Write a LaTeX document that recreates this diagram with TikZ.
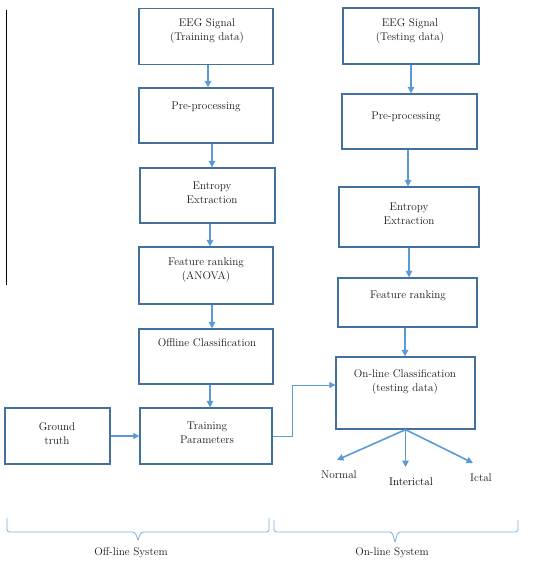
\documentclass[tikz,border=0pt]{standalone}
\usetikzlibrary{arrows.meta}
\definecolor{boxblue}{HTML}{41719C}
\definecolor{arrblue}{HTML}{5B9BD5}
\definecolor{txtgray}{HTML}{1A1A1A}
\tikzset{
  box/.style={draw=boxblue, line width=1.3bp, rectangle, inner sep=0pt},
  txt/.style={align=center, inner sep=0pt, font=\fontsize{11.2}{14.5}\selectfont, text=txtgray},
  arr/.style={draw=arrblue, line width=1.6bp, -{Triangle[length=6.5bp,width=6.5bp]}},
  link/.style={draw=arrblue, line width=0.9bp, -{Triangle[length=6bp,width=6bp]}},
  bracepath/.style={draw=arrblue!80, line width=0.8bp, rounded corners=2.5bp}
}
\begin{document}
\begin{tikzpicture}[x=1bp,y=-1bp]
\useasboundingbox[fill=white] (0,0) rectangle (534,572);
% left margin line
\draw[black, line width=1bp] (6,10) -- (6,285);
% ---------- Off-line column ----------
\node[box, minimum width=134bp, minimum height=56bp] (e1) at (206,36.5) {};
\node[txt] (e1t) at (207,31) {EEG Signal\\(Training data)};
\node[box, minimum width=134bp, minimum height=55bp] (p1) at (206,115.5) {};
\node[txt] (p1t) at (206,107) {Pre-processing};
\node[box, minimum width=135bp, minimum height=55bp] (x1) at (207.5,195.5) {};
\node[txt] (x1t) at (212,193) {Entropy\\Extraction};
\node[box, minimum width=134bp, minimum height=57bp] (f1) at (206,275.5) {};
\node[txt] (f1t) at (206,270) {Feature ranking\\(ANOVA)};
\node[box, minimum width=134bp, minimum height=55bp] (c1) at (206,356.5) {};
\node[txt] (c1t) at (207,343) {Offline Classification};
\node[box, minimum width=132bp, minimum height=56bp] (tp) at (206,436) {};
\node[txt] (tpt) at (207,433) {Training\\Parameters};
\node[box, minimum width=105bp, minimum height=56bp] (gt) at (57.5,436) {};
\node[txt] (gtt) at (57,433.5) {Ground\\truth};
% ---------- On-line column ----------
\node[box, minimum width=136bp, minimum height=56bp] (e2) at (411,36) {};
\node[txt] (e2t) at (410,31) {EEG Signal\\(Testing data)};
\node[box, minimum width=135bp, minimum height=55bp] (p2) at (409.5,121.5) {};
\node[txt] (p2t) at (406,117) {Pre-processing};
\node[box, minimum width=140bp, minimum height=60bp] (x2) at (409,217) {};
\node[txt] (x2t) at (409,214) {Entropy\\Extraction};
\node[box, minimum width=139bp, minimum height=49bp] (f2) at (407.5,302.5) {};
\node[txt] (f2t) at (408,296) {Feature ranking};
\node[box, minimum width=139bp, minimum height=72bp] (on) at (405.5,393) {};
\node[txt] (ont) at (405,382) {On-line Classification\\(testing data)};
% outputs
\node[txt] (norm) at (339,475) {Normal};
\node[txt, text=black] (inter) at (411,482) {Interictal};
\node[txt] (ict) at (481,478) {Ictal};
\coordinate (normtip) at (337,460);
\coordinate (intertip) at (405.5,467);
\coordinate (icttip) at (473,463);
% ---------- connectors ----------
\draw[arr] ([xshift=2bp]e1.south) -- ([xshift=2bp]e1.south |- p1.north);
\draw[arr] ([xshift=6bp]p1.south) -- ([xshift=6bp]p1.south |- x1.north);
\draw[arr] ([xshift=2.5bp]x1.south) -- ([xshift=2.5bp]x1.south |- f1.north);
\draw[arr] ([xshift=6bp]f1.south) -- ([xshift=6bp]f1.south |- c1.north);
\draw[arr] ([xshift=4bp]c1.south) -- ([xshift=4bp]c1.south |- tp.north);
\draw[link, line width=1.2bp] (gt.east) -- (tp.west);
\draw[arr] (e2.south) -- (e2.south |- p2.north);
\draw[arr] ([xshift=-1.5bp]p2.south) -- ([xshift=-1.5bp]p2.south |- x2.north);
\draw[arr] (x2.south) -- (x2.south |- f2.north);
\draw[arr] ([xshift=-2.5bp]f2.south) -- ([xshift=-2.5bp]f2.south |- on.north);
\draw[link] (tp.east) -- ++(20,0) |- ([yshift=8bp]on.west);
\draw[arr] (on.south) -- (normtip);
\draw[arr] (on.south) -- (intertip);
\draw[arr] (on.south) -- (icttip);
% ---------- braces ----------
\draw[bracepath] (7,518) -- (7,532) -- (135,532) -- (138,540);
\draw[bracepath] (138,540) -- (141,532) -- (269,532) -- (269,518);
\draw[bracepath] (274,520) -- (274,532) -- (392,532) -- (395,542);
\draw[bracepath] (395,542) -- (398,532) -- (518,532) -- (518,520);
\node[txt] (offl) at (131,553) {Off-line System};
\node[txt] (onl) at (392,553) {On-line System};
\end{tikzpicture}
\end{document}
